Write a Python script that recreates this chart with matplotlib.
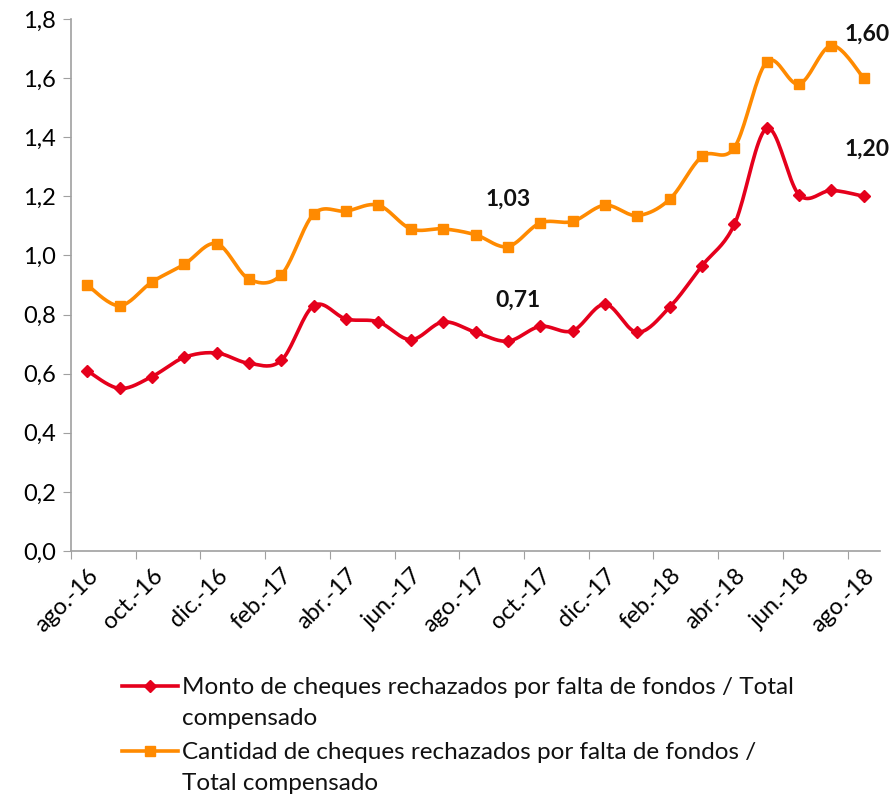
import numpy as np
import matplotlib
matplotlib.use("Agg")
import matplotlib.pyplot as plt
from matplotlib.lines import Line2D

plt.rcParams['font.family'] = ['Lato', 'DejaVu Sans']

months = ["ago.-16", "sep.-16", "oct.-16", "nov.-16", "dic.-16", "ene.-17", "feb.-17",
          "mar.-17", "abr.-17", "may.-17", "jun.-17", "jul.-17", "ago.-17", "sep.-17",
          "oct.-17", "nov.-17", "dic.-17", "ene.-18", "feb.-18", "mar.-18", "abr.-18",
          "may.-18", "jun.-18", "jul.-18", "ago.-18"]
monto = [0.61, 0.55, 0.59, 0.655, 0.67, 0.635, 0.645, 0.83, 0.785, 0.775, 0.715, 0.775,
         0.74, 0.71, 0.76, 0.745, 0.835, 0.74, 0.825, 0.965, 1.105, 1.43, 1.205, 1.22, 1.20]
cantidad = [0.90, 0.83, 0.91, 0.97, 1.04, 0.92, 0.935, 1.14, 1.15, 1.17, 1.09, 1.09,
            1.07, 1.03, 1.11, 1.115, 1.17, 1.135, 1.19, 1.335, 1.365, 1.655, 1.58, 1.71, 1.60]
label_monto = "Monto de cheques rechazados por falta de fondos / Total\ncompensado"
label_cant = "Cantidad de cheques rechazados por falta de fondos /\nTotal compensado"
annotations = [(13, 0.71, "0,71"), (24, 1.20, "1,20"), (13, 1.03, "1,03"), (24, 1.60, "1,60")]

RED = '#E5001C'
ORANGE = '#FF8A00'


def smooth(xs, ys, n=20):
    p = np.column_stack([xs, ys]).astype(float)
    out = []
    for i in range(len(p) - 1):
        p0 = p[i - 1] if i > 0 else p[i]
        p1 = p[i]
        p2 = p[i + 1]
        p3 = p[i + 2] if i + 2 < len(p) else p[i + 1]
        c1 = p1 + (p2 - p0) / 6
        c2 = p2 - (p3 - p1) / 6
        t = np.linspace(0, 1, n, endpoint=(i == len(p) - 2))[:, None]
        b = (1 - t) ** 3 * p1 + 3 * (1 - t) ** 2 * t * c1 + 3 * (1 - t) * t ** 2 * c2 + t ** 3 * p2
        out.append(b)
    out = np.vstack(out)
    return out[:, 0], out[:, 1]


W, H = 895, 801
fig = plt.figure(figsize=(W / 100, H / 100), dpi=100)
ax = fig.add_axes([71 / W, 1 - 551 / H, (880 - 71) / W, (551 - 19) / H])

x = np.arange(len(months))
sx, sy = smooth(x, monto)
ax.plot(sx, sy, color=RED, lw=2.6, solid_capstyle='round', zorder=3)
ax.plot(x, monto, ls='none', marker='D', ms=6.5, color=RED, zorder=4)
sx, sy = smooth(x, cantidad)
ax.plot(sx, sy, color=ORANGE, lw=2.6, solid_capstyle='round', zorder=3)
ax.plot(x, cantidad, ls='none', marker='s', ms=7.5, color=ORANGE, zorder=4)

ax.set_xlim(-0.5, len(months) - 0.5)
ax.set_ylim(0, 1.8)
yt = np.arange(0, 1.81, 0.2)
ax.set_yticks(yt)
ax.set_yticklabels([f"{v:.1f}".replace('.', ',') for v in yt], fontsize=17)

ax.set_xticks(np.arange(-0.5, len(months) - 0.5, 2))
ax.set_xticklabels([])
ax.set_xticks(x[::2], minor=True)
ax.set_xticklabels(months[::2], minor=True, rotation=45, ha='right', rotation_mode='anchor', fontsize=17)
ax.tick_params(axis='x', which='minor', length=0, pad=10)
ax.tick_params(axis='x', which='major', length=6, color='#A0A0A0')
ax.tick_params(axis='y', length=6, color='#A0A0A0', pad=5)

for s in ['top', 'right']:
    ax.spines[s].set_visible(False)
for s in ['left', 'bottom']:
    ax.spines[s].set_color('#A0A0A0')
    ax.spines[s].set_linewidth(1.2)

offsets = {"0,71": (0.3, 0.14), "1,20": (0.1, 0.16), "1,03": (0.0, 0.16), "1,60": (0.1, 0.15)}
for xi, yv, txt in annotations:
    dx, dy = offsets[txt]
    ax.text(xi + dx, yv + dy, txt, ha='center', va='center', fontsize=16.5, fontweight='bold', color='#111111')

# legend (manual layout)
for yc, col, mk, ms, lab in [(686, RED, 'D', 6, label_monto), (751, ORANGE, 's', 6.5, label_cant)]:
    fy = 1 - yc / H
    fig.add_artist(Line2D([122 / W, 178 / W], [fy, fy], color=col, lw=2.6))
    fig.add_artist(Line2D([150 / W], [fy], marker=mk, ms=ms, color=col, ls='none'))
    fig.text(182 / W, fy + 0.0115, lab, ha='left', va='top', fontsize=17.5, color='#111111',
             linespacing=1.62, transform=fig.transFigure)

fig.savefig("out.png", dpi=100)
